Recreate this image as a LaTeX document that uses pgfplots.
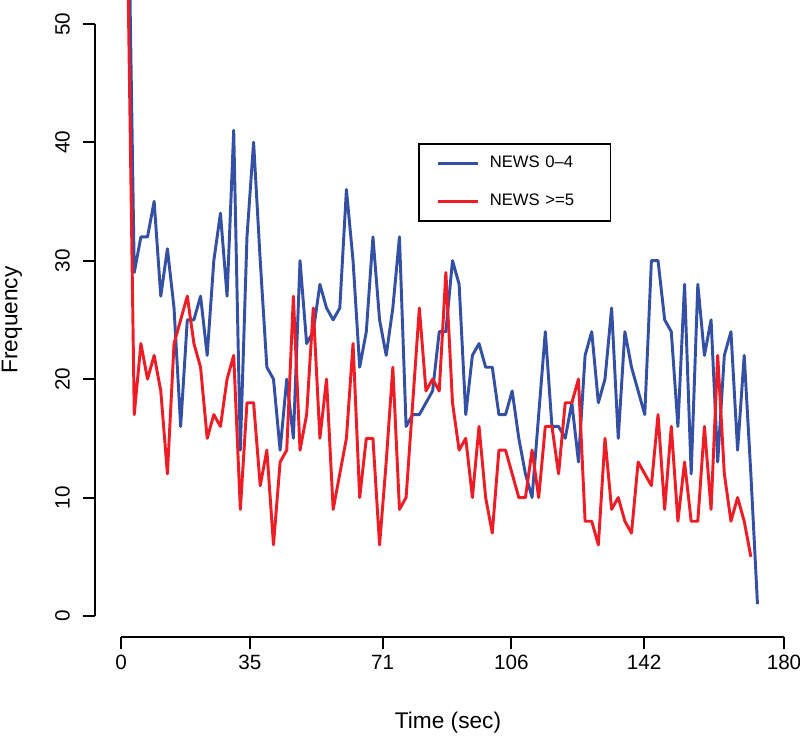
\documentclass[border=0pt]{standalone}
\usepackage{fontspec}
\setmainfont{Liberation Sans}
\usepackage{pgfplots}
\pgfplotsset{compat=1.18}
\usepackage{pgfplotstable}
\definecolor{newsblue}{RGB}{52,80,165}
\definecolor{newsred}{RGB}{238,28,36}

\pgfplotstableread{
k v
1 65
2 29
3 32
4 32
5 35
6 27
7 31
8 26
9 16
10 25
11 25
12 27
13 22
14 30
15 34
16 27
17 41
18 14
19 32
20 40
21 30
22 21
23 20
24 14
25 20
26 15
27 30
28 23
29 24
30 28
31 26
32 25
33 26
34 36
35 30
36 21
37 24
38 32
39 25
40 22
41 26
42 32
43 16
44 17
45 17
46 18
47 19
48 24
49 24
50 30
51 28
52 17
53 22
54 23
55 21
56 21
57 17
58 17
59 19
60 15
61 12
62 10
63 17
64 24
65 16
66 16
67 15
68 18
69 13
70 22
71 24
72 18
73 20
74 26
75 15
76 24
77 21
78 19
79 17
80 30
81 30
82 25
83 24
84 16
85 28
86 12
87 28
88 22
89 25
90 13
91 22
92 24
93 14
94 22
95 12
96 1
}\bluedata

\pgfplotstableread{
k v
1 56
2 17
3 23
4 20
5 22
6 19
7 12
8 23
9 25
10 27
11 23
12 21
13 15
14 17
15 16
16 20
17 22
18 9
19 18
20 18
21 11
22 14
23 6
24 13
25 14
26 27
27 14
28 17
29 26
30 15
31 20
32 9
33 12
34 15
35 23
36 10
37 15
38 15
39 6
40 13
41 21
42 9
43 10
44 18
45 26
46 19
47 20
48 19
49 29
50 18
51 14
52 15
53 10
54 16
55 10
56 7
57 14
58 14
59 12
60 10
61 10
62 14
63 10
64 16
65 16
66 12
67 18
68 18
69 20
70 8
71 8
72 6
73 15
74 9
75 10
76 8
77 7
78 13
79 12
80 11
81 17
82 9
83 16
84 8
85 13
86 8
87 8
88 16
89 9
90 22
91 12
92 8
93 10
94 8
95 5
}\reddata

\newcommand{\tickfont}{\fontsize{15.5}{18}\selectfont}
\newcommand{\titlefont}{\fontsize{17}{20}\selectfont}
\newcommand{\legfont}{\fontsize{12.5}{15}\selectfont}

\begin{document}
\begin{tikzpicture}
\path[use as bounding box] (0pt,0pt) rectangle (600pt,554.25pt);

% data axis (plot region)
\begin{axis}[
  at={(90.75pt,92.25pt)}, anchor=south west,
  scale only axis, width=497.25pt, height=462pt,
  xmin=0, xmax=180, ymin=0, ymax=52,
  hide axis, clip=true,
  legend image code/.code={\draw[#1] (0pt,0pt) -- (30pt,0pt);},
  legend style={
    at={(axis description cs:0.448,0.768)}, anchor=north west,
    draw=black, line width=1.2pt,
    font=\legfont,
    inner xsep=13.5pt, inner ysep=9pt,
    row sep=16pt, column sep=7.5pt,
    nodes={inner sep=0pt, text height=9pt, text depth=3pt},
    /tikz/every even column/.append style={text width=77pt},
  },
  legend cell align=left,
]
\addplot[newsblue, line width=2.2pt, line join=round] table[x expr=1.8*\thisrow{k}, y=v]{\bluedata};
\addlegendentry{NEWS 0–4}
\addplot[newsred, line width=2.2pt, line join=round] table[x expr=1.8*\thisrow{k}, y=v]{\reddata};
\addlegendentry{NEWS >=5}
\end{axis}

% x axis (R style, offset below plot)
\begin{axis}[
  at={(90.75pt,76.5pt)}, anchor=south west,
  scale only axis, width=497.25pt, height=1pt,
  xmin=0, xmax=180, ymin=0, ymax=1,
  axis x line*=bottom, axis y line=none,
  xtick={0,35,71,106,142,180}, ytick=\empty,
  tick align=outside, major tick length=9pt,
  every tick/.style={black, line width=1.5pt},
  axis line style={black, line width=1.5pt},
  xticklabel style={font=\tickfont, anchor=base, yshift=-15.5pt},
  /pgf/number format/assume math mode=true,
]
\addplot[draw=none] coordinates {(0,0) (180,1)};
\end{axis}

% y axis (R style, offset left of plot)
\begin{axis}[
  at={(71.25pt,92.25pt)}, anchor=south west,
  scale only axis, width=1pt, height=444pt,
  xmin=0, xmax=1, ymin=0, ymax=50,
  axis y line*=left, axis x line=none,
  ytick={0,10,20,30,40,50}, xtick=\empty,
  tick align=outside, major tick length=9pt,
  every tick/.style={black, line width=1.5pt},
  axis line style={black, line width=1.5pt},
  yticklabel style={font=\tickfont, rotate=90, anchor=base, yshift=10pt},
  /pgf/number format/assume math mode=true,
]
\addplot[draw=none] coordinates {(0,0) (1,50)};
\end{axis}

\node[anchor=base, font=\titlefont] at (336pt,7.5pt) {Time (sec)};
\node[rotate=90, anchor=base, font=\titlefont] at (13pt,314.25pt) {Frequency};
\end{tikzpicture}
\end{document}
